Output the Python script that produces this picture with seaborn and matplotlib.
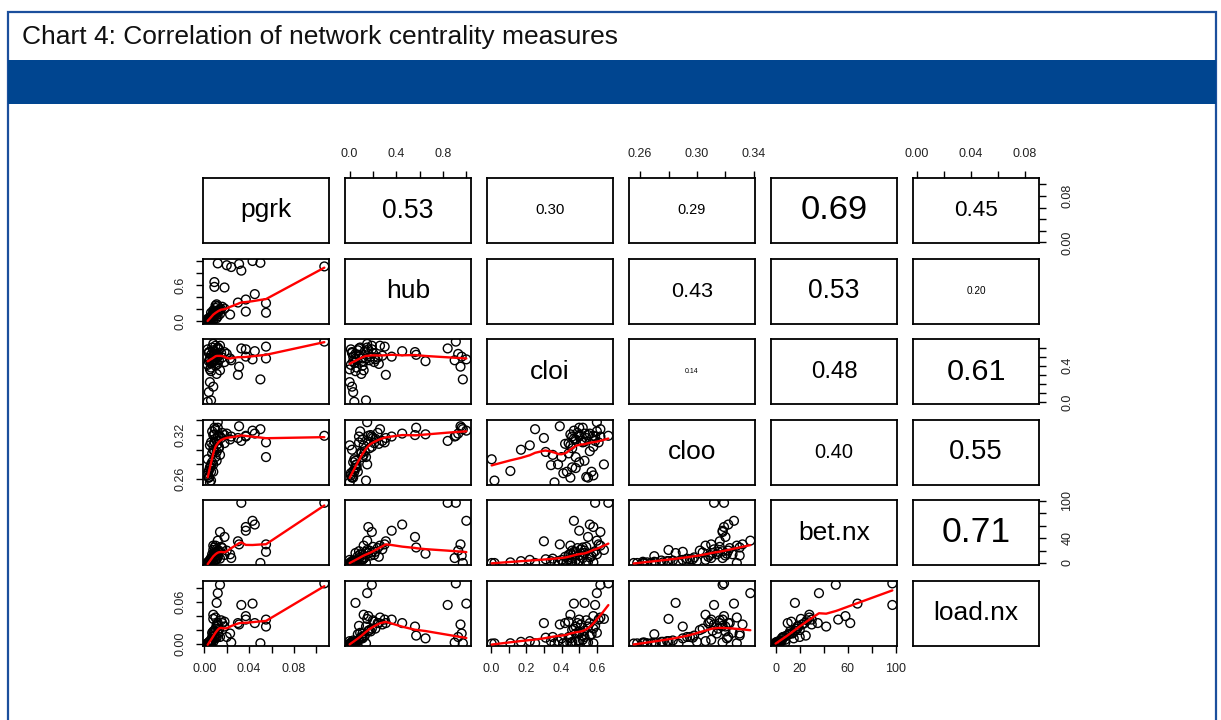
import numpy as np
import pandas as pd
import matplotlib
matplotlib.use("Agg")
import matplotlib.pyplot as plt
from matplotlib.patches import Rectangle
import seaborn as sns

sns.set_theme(style="white")
plt.rcParams["font.family"] = ["Liberation Sans", "DejaVu Sans"]

TITLE = "Chart 4: Correlation of network centrality measures"
variables = ["pgrk", "hub", "cloi", "cloo", "bet.nx", "load.nx"]

# centrality scores per node
pgrk = [.107, .012, .020, .024, .031, .033, .043, .050, .009, .009, .018, .045, .037, .030, .055,
        .037, .055, .023, .012, .014, .011, .008, .003, .004, .006, .008, .005, .004, .005, .006,
        .007, .003, .008, .010, .012, .006, .009, .011, .004, .007, .013, .005, .015, .010, .008,
        .016, .006, .009, .003, .012, .014, .007, .010, .005, .018, .004, .011, .008, .006, .013]
hub = [.91, .96, .93, .90, .95, .84, 1.00, .97, .65, .57, .56, .45, .36, .31, .30,
       .16, .14, .11, .15, .19, .05, .12, .04, .03, .14, .02, .00, .02, .05, .08,
       .10, .01, .18, .22, .25, .06, .13, .28, .03, .09, .17, .00, .20, .11, .07,
       .24, .04, .16, .01, .08, .12, .03, .26, .06, .21, .02, .10, .15, .05, .19]
cloi = [.665, .50, .53, .46, .39, .59, .47, .25, .45, .52, .55, .56, .50, .30, .61,
        .58, .48, .48, .60, .62, .53, .45, .004, .11, .02, .17, .22, .55, .48, .52,
        .44, .58, .50, .47, .42, .38, .56, .51, .45, .60, .46, .36, .54, .40, .57,
        .49, .43, .53, .41, .59, .35, .50, .62, .46, .44, .54, .31, .64, .34, .58]
cloo = [.319, .330, .322, .318, .332, .312, .326, .328, .321, .330, .320, .322, .318, .316, .310,
        .319, .290, .314, .3375, .318, .285, .306, .287, .271, .258, .300, .306, .262, .275, .310,
        .295, .265, .320, .315, .308, .280, .298, .312, .262, .325, .302, .2555, .316, .290, .270,
        .323, .270, .311, .268, .318, .293, .283, .328, .276, .309, .263, .297, .280, .279, .304]
bet_nx = [97, 12, 20, 8, 30, 97, 68, 0, 15, 25, 42, 62, 52, 35, 30,
          58, 18, 14, 36, 50, 16, 28, 0, 1, 0, 3, 5, 2, 4, 8,
          6, 1, 12, 18, 10, 3, 9, 22, 0, 14, 20, 0, 26, 5, 11,
          24, 2, 16, 0, 19, 7, 4, 28, 1, 13, 0, 6, 21, 3, 17]
load_nx = [.087, .015, .010, .002, .028, .056, .058, .001, .008, .012, .025, .030, .035, .030, .035,
           .040, .025, .015, .073, .085, .059, .042, .0005, .001, .0008, .003, .004, .002, .003, .006,
           .010, .001, .018, .022, .030, .004, .012, .028, .001, .016, .020, .0006, .034, .008, .014,
           .030, .002, .019, .001, .026, .010, .005, .038, .003, .032, .002, .009, .036, .004, .022]

# correlation coefficients shown above the diagonal (row by row)
cor_pgrk = [0.53, 0.30, 0.29, 0.69, 0.45]
cor_hub = [None, 0.43, 0.53, 0.20]
cor_cloi = [0.14, 0.48, 0.61]
cor_cloo = [0.40, 0.55]
cor_bet = [0.71]
upper = [cor_pgrk, cor_hub, cor_cloi, cor_cloo, cor_bet]

# axis ticks and the labels printed on each outer side
ticks = {
    "pgrk": [0.00, 0.02, 0.04, 0.06, 0.08, 0.10],
    "hub": [0.0, 0.2, 0.4, 0.6, 0.8, 1.0],
    "cloi": [0.0, 0.1, 0.2, 0.3, 0.4, 0.5, 0.6],
    "cloo": [0.26, 0.28, 0.30, 0.32, 0.34],
    "bet.nx": [0, 20, 40, 60, 80, 100],
    "load.nx": [0.00, 0.02, 0.04, 0.06, 0.08],
}
horiz_labels = {
    "pgrk": ["0.00", "", "0.04", "", "0.08", ""],
    "hub": ["0.0", "", "0.4", "", "0.8", ""],
    "cloi": ["0.0", "", "0.2", "", "0.4", "", "0.6"],
    "cloo": ["0.26", "", "0.30", "", "0.34"],
    "bet.nx": ["0", "20", "", "60", "", "100"],
    "load.nx": ["0.00", "", "0.04", "", "0.08"],
}
vert_labels = {
    "pgrk": ["0.00", "", "", "", "0.08", ""],
    "hub": ["0.0", "", "", "0.6", "", ""],
    "cloi": ["0.0", "", "", "", "0.4", "", ""],
    "cloo": ["0.26", "", "", "0.32", ""],
    "bet.nx": ["0", "", "40", "", "", "100"],
    "load.nx": ["0.00", "", "", "0.06", ""],
}

df = pd.DataFrame({"pgrk": pgrk, "hub": hub, "cloi": cloi, "cloo": cloo,
                   "bet.nx": bet_nx, "load.nx": load_nx})


def lowess(x, y, f=2 / 3, iters=3):
    """Locally weighted scatterplot smoothing (Cleveland), as used by panel.smooth."""
    order = np.argsort(x, kind="stable")
    x = np.asarray(x, float)[order]
    y = np.asarray(y, float)[order]
    n = len(x)
    ns = max(min(int(f * n + 1e-7), n), 2)
    rw = np.ones(n)
    fit = np.zeros(n)
    xr = x.max() - x.min()
    for it in range(iters + 1):
        for i in range(n):
            d = np.abs(x - x[i])
            h = max(np.sort(d)[ns - 1], 1e-12)
            u = d / h
            w = np.where(u < 0.999, (1 - u ** 3) ** 3, 0.0) * rw
            sw = w.sum()
            if sw <= 0:
                fit[i] = y[i]
                continue
            xm = (w * x).sum() / sw
            ym = (w * y).sum() / sw
            sxx = (w * (x - xm) ** 2).sum() / sw
            b = (w * (x - xm) * (y - ym)).sum() / sw / sxx if np.sqrt(sxx) > 0.001 * xr else 0.0
            fit[i] = ym + b * (x[i] - xm)
        if it == iters:
            break
        res = y - fit
        cmad = 6 * np.median(np.abs(res))
        if cmad == 0:
            break
        u = res / cmad
        rw = np.where(np.abs(u) < 1, (1 - u ** 2) ** 2, 0.0)
    return x, fit


def limits(v):
    lo, hi = float(np.min(v)), float(np.max(v))
    pad = 0.04 * (hi - lo)
    return lo - pad, hi + pad


W, H = 1221, 720
fig = plt.figure(figsize=(W / 100, H / 100), dpi=100)
fig.patch.set_facecolor("white")

# page frame, title and blue header band
border = "#1b4f9c"
fig.patches.append(Rectangle((8 / W, -0.02), 1208 / W, 1.02 - 12 / H, transform=fig.transFigure,
                             fill=False, edgecolor=border, lw=1.6, zorder=0))
fig.patches.append(Rectangle((8 / W, 1 - 104 / H), 1208 / W, 44 / H, transform=fig.transFigure,
                             facecolor="#004590", edgecolor="none", zorder=1))
fig.text(22 / W, 1 - 37 / H, TITLE, fontsize=19, color="#111111", va="center", ha="left")

x0, y0, dx, dy, pw, ph = 203, 178, 142, 80.6, 126, 65
tick_kw = dict(direction="out", length=5, width=1, labelsize=9, labelcolor="#222222",
               color="black")

for i, yv in enumerate(variables):
    for j, xv in enumerate(variables):
        left = x0 + j * dx
        top = y0 + i * dy
        ax = fig.add_axes([left / W, 1 - (top + ph) / H, pw / W, ph / H])
        for sp in ax.spines.values():
            sp.set_visible(True)
            sp.set_color("black")
            sp.set_linewidth(1.3)
        ax.grid(False)
        ax.tick_params(axis="both", which="both", bottom=False, top=False, left=False, right=False,
                       labelbottom=False, labeltop=False, labelleft=False, labelright=False)

        if i == j:
            ax.text(0.5, 0.5, yv, transform=ax.transAxes, ha="center", va="center",
                    fontsize=19, color="black")
        elif i < j:
            r = upper[i][j - i - 1]
            if r is not None:
                ax.text(0.5, 0.5, f"{r:.2f}", transform=ax.transAxes, ha="center", va="center",
                        fontsize=36 * r, color="black")
        else:
            sns.scatterplot(x=df[xv], y=df[yv], ax=ax, marker="o", s=40,
                            facecolors="none", edgecolor="black", linewidth=1.0, legend=False)
            lx, ly = lowess(df[xv].values, df[yv].values)
            ax.plot(lx, ly, color="red", lw=1.7, zorder=3)
            ax.set_xlabel("")
            ax.set_ylabel("")

        # outer axes alternate between sides, as in a scatterplot matrix
        if i == 0 and j % 2 == 1:
            ax.set_xticks(ticks[xv])
            ax.set_xticklabels(horiz_labels[xv])
            ax.tick_params(axis="x", top=True, labeltop=True, pad=8, **tick_kw)
        if i == len(variables) - 1 and j % 2 == 0:
            ax.set_xticks(ticks[xv])
            ax.set_xticklabels(horiz_labels[xv])
            ax.tick_params(axis="x", bottom=True, labelbottom=True, pad=7, **tick_kw)
        if j == 0 and i % 2 == 1:
            ax.set_yticks(ticks[yv])
            ax.set_yticklabels(vert_labels[yv], rotation=90, va="center")
            ax.tick_params(axis="y", left=True, labelleft=True, pad=7, **tick_kw)
        if j == len(variables) - 1 and i % 2 == 0:
            ax.set_yticks(ticks[yv])
            ax.set_yticklabels(vert_labels[yv], rotation=90, va="center")
            ax.tick_params(axis="y", right=True, labelright=True, pad=11, **tick_kw)
        ax.set_xlim(*limits(df[xv]))
        ax.set_ylim(*limits(df[yv]))

fig.savefig("out.png", dpi=100)
